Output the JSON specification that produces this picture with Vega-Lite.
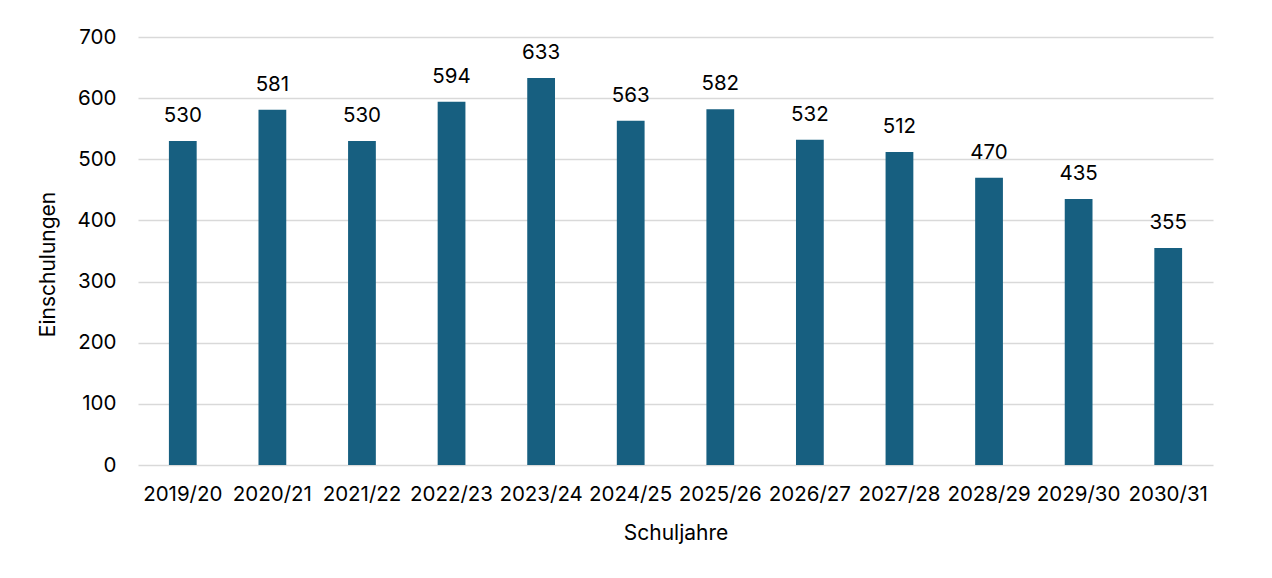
{
  "$schema": "https://vega.github.io/schema/vega-lite/v6.json",
  "width": 1075,
  "height": 428,
  "autosize": {"type": "none"},
  "padding": {"left": 138, "top": 37, "right": 59, "bottom": 113},
  "background": "white",
  "config": {
    "view": {"stroke": null},
    "font": "Inter",
    "axis": {"labelFont": "Inter", "titleFont": "Inter", "labelColor": "#000000", "titleColor": "#000000", "titleFontWeight": "normal"}
  },
  "data": {"values": [
    {"jahr": "2019/20", "wert": 530},
    {"jahr": "2020/21", "wert": 581},
    {"jahr": "2021/22", "wert": 530},
    {"jahr": "2022/23", "wert": 594},
    {"jahr": "2023/24", "wert": 633},
    {"jahr": "2024/25", "wert": 563},
    {"jahr": "2025/26", "wert": 582},
    {"jahr": "2026/27", "wert": 532},
    {"jahr": "2027/28", "wert": 512},
    {"jahr": "2028/29", "wert": 470},
    {"jahr": "2029/30", "wert": 435},
    {"jahr": "2030/31", "wert": 355}
  ]},
  "encoding": {
    "x": {
      "field": "jahr", "type": "nominal", "sort": null,
      "scale": {"paddingInner": 0.69, "paddingOuter": 0.345},
      "axis": {"title": "Schuljahre", "labelAngle": 0, "labelFontSize": 20.5, "titleFontSize": 21, "ticks": false, "domain": false, "labelPadding": 19, "titlePadding": 18}
    },
    "y": {
      "field": "wert", "type": "quantitative",
      "scale": {"domain": [0, 700]},
      "axis": {"title": "Einschulungen", "values": [0, 100, 200, 300, 400, 500, 600, 700], "labelFontSize": 20.5, "titleFontSize": 21, "ticks": false, "domain": false, "labelPadding": 22, "titlePadding": 18, "titleY": 227, "gridColor": "#d9d9d9", "gridWidth": 1.5}
    }
  },
  "layer": [
    {"mark": {"type": "bar", "color": "#175f80"}},
    {"mark": {"type": "text", "baseline": "alphabetic", "dy": -19, "fontSize": 20.5, "color": "#000000"},
     "encoding": {"text": {"field": "wert", "type": "quantitative"}}}
  ]
}
